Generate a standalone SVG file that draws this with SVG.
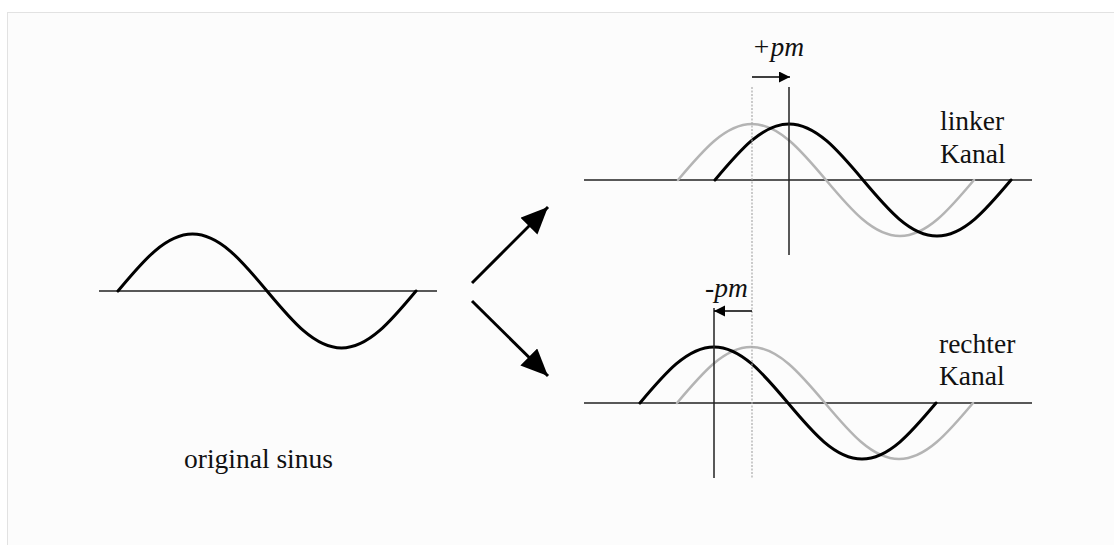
<svg xmlns="http://www.w3.org/2000/svg" width="1114" height="545" viewBox="0 0 1114 545">
<style>
.axis{stroke:#222;stroke-width:1.5;fill:none}
.sine{stroke:#000;stroke-width:3;fill:none;stroke-linecap:round}
.sineg{stroke:#b4b4b4;stroke-width:2.5;fill:none;stroke-linecap:round}
.vline{stroke:#222;stroke-width:1.5}
.dot{stroke:#aaa;stroke-width:1.2;stroke-dasharray:2 1.5}
.lbl{font-family:"Liberation Serif","Times New Roman",serif;font-size:27.5px;fill:#111}
.it{font-style:italic}
</style>
<defs>
<marker id="big" markerUnits="userSpaceOnUse" markerWidth="30" markerHeight="26" refX="27" refY="12" orient="auto">
<path d="M0,0 L27,12 L0,24 Z" fill="#000"/>
</marker>
<marker id="small" markerUnits="userSpaceOnUse" markerWidth="12" markerHeight="12" refX="11" refY="5.5" orient="auto">
<path d="M0,0 L11,5.5 L0,11 Z" fill="#000"/>
</marker>
</defs>
<rect x="0" y="0" width="1114" height="545" fill="#fff"/>
<rect x="7.5" y="12.5" width="1112" height="540" fill="#fcfcfc" stroke="#e2e2e2" stroke-width="1"/>

<g id="original">
<line class="axis" x1="99" y1="291" x2="437" y2="291"/>
<path class="sine" d="M 118 291 c 24.9 -29.9 47.6 -57 74.5 -57 s 49.6 27.1 74.5 57 s 47.6 57 74.5 57 s 49.6 -27.1 74.5 -57"/>
<text class="lbl" x="184" y="468">original sinus</text>
</g>

<g id="linker">
<line class="axis" x1="584" y1="180" x2="1032" y2="180"/>
<path class="sineg" d="M 678 180 c 24.7 -29.4 47.2 -56 74 -56 s 49.3 26.6 74 56 s 47.2 56 74 56 s 49.3 -26.6 74 -56"/>
<path class="sine" d="M 715 180 c 24.7 -29.4 47.2 -56 74 -56 s 49.3 26.6 74 56 s 47.2 56 74 56 s 49.3 -26.6 74 -56"/>
<line class="vline" x1="789" y1="87" x2="789" y2="255"/>
<text class="lbl" x="940" y="130">linker</text>
<text class="lbl" x="940" y="163">Kanal</text>
<text class="lbl it" x="752" y="56">+pm</text>
</g>

<g id="rechter">
<line class="axis" x1="584" y1="403" x2="1032" y2="403"/>
<path class="sineg" d="M 677 403 c 24.7 -29.4 47.2 -56 74 -56 s 49.3 26.6 74 56 s 47.2 56 74 56 s 49.3 -26.6 74 -56"/>
<path class="sine" d="M 640 403 c 24.7 -29.4 47.2 -56 74 -56 s 49.3 26.6 74 56 s 47.2 56 74 56 s 49.3 -26.6 74 -56"/>
<line class="vline" x1="714" y1="308" x2="714" y2="478"/>
<text class="lbl" x="939" y="353">rechter</text>
<text class="lbl" x="939" y="385">Kanal</text>
<text class="lbl it" x="705" y="297">-pm</text>
</g>

<g id="connectors">
<line class="dot" x1="752" y1="87" x2="752" y2="478"/>
<line stroke="#000" stroke-width="1.5" x1="752" y1="77" x2="790" y2="77" marker-end="url(#small)"/>
<line stroke="#000" stroke-width="1.5" x1="752" y1="311" x2="714" y2="311" marker-end="url(#small)"/>
<line stroke="#000" stroke-width="3" x1="472" y1="283" x2="548" y2="207" marker-end="url(#big)"/>
<line stroke="#000" stroke-width="3" x1="472" y1="301" x2="548" y2="376" marker-end="url(#big)"/>
</g>
</svg>
